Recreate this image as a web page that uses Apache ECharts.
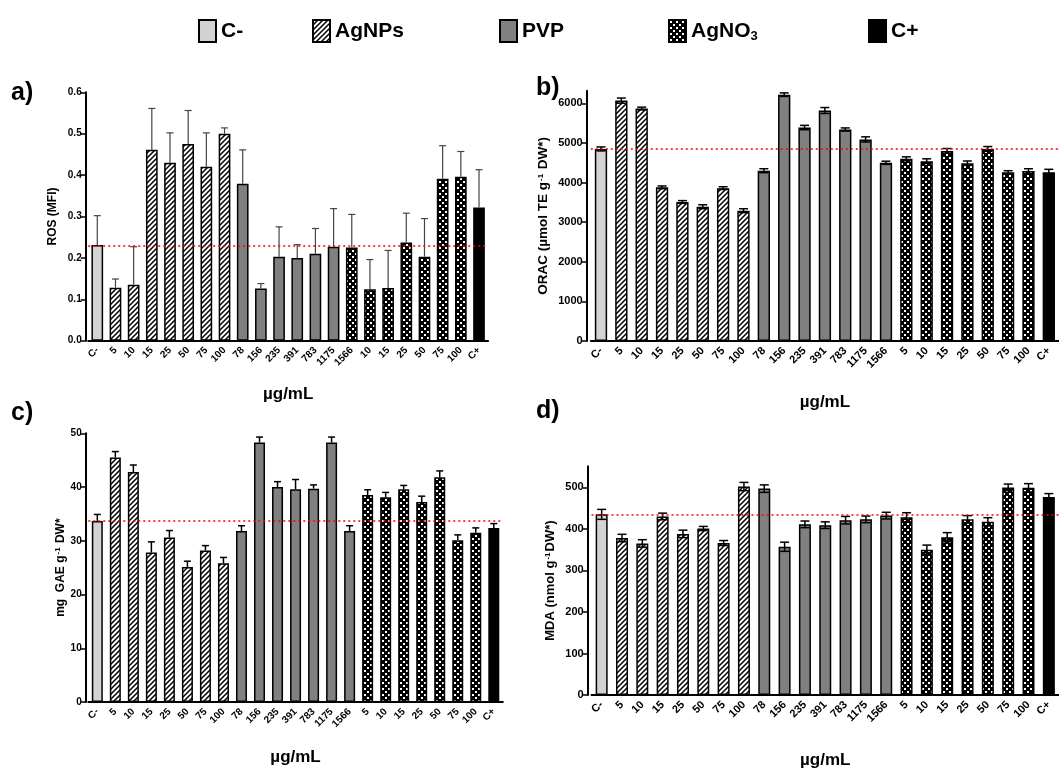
<!DOCTYPE html>
<html><head><meta charset="utf-8">
<script src="https://cdn.jsdelivr.net/npm/echarts@6/dist/echarts.min.js"></script>
<style>html,body{margin:0;padding:0;background:#fff}#c{width:1059px;height:770px}</style>
</head><body><div id="c"></div>
<script>
// ---------- DATA ----------
const groupNames = ['C-', 'AgNPs', 'PVP', 'AgNO3', 'C+'];

// panel a categories (as printed on the axis)
const catsA = ['C-','5','10','15','25','50','75','100','78','156','235','391','783','1175','1566','10','15','25','50','75','100','C+'];
const groupsA = ['C-','AgNPs','AgNPs','AgNPs','AgNPs','AgNPs','AgNPs','AgNPs','PVP','PVP','PVP','PVP','PVP','PVP','AgNO3','AgNO3','AgNO3','AgNO3','AgNO3','AgNO3','AgNO3','C+'];
// panels b, c, d categories
const catsBCD = ['C-','5','10','15','25','50','75','100','78','156','235','391','783','1175','1566','5','10','15','25','50','75','100','C+'];
const groupsBCD = ['C-','AgNPs','AgNPs','AgNPs','AgNPs','AgNPs','AgNPs','AgNPs','PVP','PVP','PVP','PVP','PVP','PVP','PVP','AgNO3','AgNO3','AgNO3','AgNO3','AgNO3','AgNO3','AgNO3','C+'];

// a) ROS (MFI)
const rosVals = [0.231,0.128,0.135,0.461,0.430,0.475,0.420,0.500,0.379,0.126,0.203,0.200,0.210,0.227,0.225,0.124,0.127,0.237,0.203,0.391,0.396,0.322];
const rosErr  = [0.071,0.021,0.092,0.100,0.072,0.081,0.082,0.014,0.082,0.012,0.072,0.032,0.061,0.092,0.080,0.072,0.091,0.071,0.092,0.080,0.061,0.091];
// b) ORAC
const oracVals = [4850,6070,5870,3880,3510,3390,3860,3290,4300,6220,5390,5820,5340,5090,4500,4600,4540,4800,4490,4850,4260,4290,4260];
const oracErr  = [50,65,35,35,35,50,35,50,50,45,55,75,40,65,40,50,60,60,55,60,40,60,75];
// c) mg GAE
const gaeVals = [33.7,45.5,42.8,27.8,30.6,25.1,28.2,25.8,31.8,48.3,40.0,39.6,39.7,48.3,31.8,38.5,38.1,39.6,37.2,41.8,30.1,31.5,32.4];
const gaeErr  = [1.2,1.1,1.3,2.0,1.3,1.1,0.9,1.1,1.0,1.0,1.0,1.8,0.7,1.0,1.0,1.0,0.9,0.7,1.1,1.2,1.0,0.9,0.8];
// d) MDA
const mdaVals = [435,378,365,430,388,401,366,502,497,357,411,409,421,423,432,428,350,380,423,417,500,499,477];
const mdaErr  = [12,9,9,8,9,5,6,10,9,11,8,8,9,8,8,11,11,11,9,10,8,10,8];

const yTicksA = [0,0.1,0.2,0.3,0.4,0.5,0.6];
const yTicksB = [0,1000,2000,3000,4000,5000,6000];
const yTicksC = [0,10,20,30,40,50];
const yTicksD = [0,100,200,300,400,500];

// ---------- PATTERNS ----------
function hatch() {
  const s = 5, c = document.createElement('canvas'); c.width = c.height = s;
  const g = c.getContext('2d');
  g.fillStyle = '#fff'; g.fillRect(0,0,s,s);
  g.strokeStyle = '#000'; g.lineWidth = 1.5; g.beginPath();
  g.moveTo(-1, s+1); g.lineTo(s+1, -1);
  g.moveTo(-1, 1); g.lineTo(1, -1);
  g.moveTo(s-1, s+1); g.lineTo(s+1, s-1);
  g.stroke();
  return c;
}
function checker() {
  const s = 6, c = document.createElement('canvas'); c.width = c.height = s;
  const g = c.getContext('2d');
  g.fillStyle = '#000'; g.fillRect(0,0,s,s);
  g.fillStyle = '#fff';
  g.fillRect(1,1,2,2); g.fillRect(4,4,2,2);
  return c;
}
const fills = {
  'C-': '#d3d3d3',
  'AgNPs': { image: hatch(), repeat: 'repeat' },
  'PVP': '#808080',
  'AgNO3': { image: checker(), repeat: 'repeat' },
  'C+': '#000'
};

const FONT = '"Liberation Sans", Arial, sans-serif';
const chart = echarts.init(document.getElementById('c'), null, { renderer: 'canvas' });

const panels = [
  { cats: catsA, groups: groupsA, vals: rosVals, err: rosErr, ticks: yTicksA, max: 0.6,
    grid: { left: 88.2, top: 92.3, width: 399.9, height: 248.4 }, offset: 2.5,
    bw: 11.7, both: false, cap: 7, ecol: '#444', elw: 1.2, xfs: 10, yfs: 10, nfs: 12,
    name: 'ROS (MFI)', nameGap: 27, xNameGap: 45, fmt: v => v.toFixed(1) },
  { cats: catsBCD, groups: groupsBCD, vals: oracVals, err: oracErr, ticks: yTicksB, max: 6320,
    grid: { left: 590.8, top: 90.7, width: 469.9, height: 250.3 }, offset: 4.1,
    bw: 12.3, both: true, cap: 9, ecol: '#000', elw: 1.5, xfs: 11, yfs: 11, nfs: 13.5,
    name: 'ORAC (µmol TE g{sup|-1} DW*)', nameGap: 36, xNameGap: 53, fmt: v => String(v) },
  { cats: catsBCD, groups: groupsBCD, vals: gaeVals, err: gaeErr, ticks: yTicksC, max: 50,
    grid: { left: 88.3, top: 433.3, width: 414.5, height: 268.7 }, offset: 2.6,
    bw: 11, both: false, cap: 7, ecol: '#000', elw: 1.5, xfs: 10, yfs: 10, nfs: 12,
    name: 'mg  GAE g{sup|-1} DW*', nameGap: 18, xNameGap: 47, fmt: v => String(v) },
  { cats: catsBCD, groups: groupsBCD, vals: mdaVals, err: mdaErr, ticks: yTicksD, max: 551,
    grid: { left: 591.5, top: 466.2, width: 468, height: 235.8 }, offset: 3.8,
    bw: 12, both: true, cap: 9, ecol: '#000', elw: 1.5, xfs: 11, yfs: 11, nfs: 13,
    name: 'MDA (nmol g{sup|-1}DW*)', nameGap: 30, xNameGap: 57, fmt: v => String(v) }
];

function errRender(p) {
  return function (params, api) {
    const i = api.value(0), v = api.value(1), e = api.value(2);
    const top = api.coord([i, v + e]);
    const bot = api.coord([i, p.both ? v - e : v]);
    const st = { stroke: p.ecol, lineWidth: p.elw };
    const ch = [
      { type: 'line', shape: { x1: top[0], y1: top[1], x2: bot[0], y2: bot[1] }, style: st },
      { type: 'line', shape: { x1: top[0] - p.cap / 2, y1: top[1], x2: top[0] + p.cap / 2, y2: top[1] }, style: st }
    ];
    if (p.both) ch.push({ type: 'line', shape: { x1: bot[0] - p.cap / 2, y1: bot[1], x2: bot[0] + p.cap / 2, y2: bot[1] }, style: st });
    return { type: 'group', children: ch };
  };
}

const grids = [], xAxes = [], yAxes = [], series = [];
panels.forEach((p, gi) => {
  grids.push(Object.assign({ containLabel: false }, p.grid));
  xAxes.push({
    type: 'category', gridIndex: gi, data: p.cats,
    axisLine: { lineStyle: { color: '#000', width: 2 } },
    axisTick: { alignWithLabel: true, length: 5, lineStyle: { color: '#000', width: 1.5 } },
    axisLabel: { rotate: 45, interval: 0, margin: 8, color: '#000', fontSize: p.xfs, fontWeight: 'bold', fontFamily: FONT },
    name: 'µg/mL', nameLocation: 'middle', nameGap: p.xNameGap,
    nameTextStyle: { color: '#000', fontSize: 17, fontWeight: 'bold', fontFamily: FONT }
  });
  yAxes.push({
    type: 'value', gridIndex: gi, min: 0, max: p.max, offset: p.offset,
    axisLine: { show: true, lineStyle: { color: '#000', width: 2 } },
    axisTick: { show: true, length: 5, lineStyle: { color: '#000', width: 1.5 }, customValues: p.ticks },
    axisLabel: { color: '#000', fontSize: p.yfs, fontWeight: 'bold', fontFamily: FONT, margin: 4,
      customValues: p.ticks,
      formatter: v => (p.ticks.some(t => Math.abs(t - v) < 1e-9) ? p.fmt(v) : '') },
    splitLine: { show: false },
    name: p.name, nameLocation: 'middle', nameRotate: 90, nameGap: p.nameGap,
    nameTextStyle: { color: '#000', fontSize: p.nfs, fontWeight: 'bold', fontFamily: FONT,
      rich: { sup: { fontSize: 8, fontWeight: 'bold', fontFamily: FONT, color: '#000', verticalAlign: 'top', padding: [0, 1, 6, 1] } } }
  });
  groupNames.forEach(g => {
    const s = {
      type: 'bar', name: g, xAxisIndex: gi, yAxisIndex: gi, barWidth: p.bw, barGap: '-100%',
      data: p.vals.map((v, k) => (p.groups[k] === g ? v : '-')),
      itemStyle: { color: fills[g], borderColor: '#000', borderWidth: 1.5 },
      silent: true, animation: false
    };
    if (g === 'C-') {
      s.markLine = {
        silent: true, symbol: 'none', animation: false, z: 5,
        label: { show: false },
        lineStyle: { color: '#ff0000', type: [2, 3], width: 1.5 },
        data: [{ yAxis: p.vals[0] }]
      };
    }
    series.push(s);
  });
  series.push({
    type: 'custom', xAxisIndex: gi, yAxisIndex: gi, silent: true, animation: false, z: 4,
    renderItem: errRender(p), encode: { x: 0, y: 1 },
    data: p.vals.map((v, k) => [k, v, p.err[k]])
  });
});

const legendPos = { 'C-': 198, 'AgNPs': 312, 'PVP': 499, 'AgNO3': 668, 'C+': 868 };
const legends = groupNames.map(g => ({
  data: [g], left: legendPos[g], top: 19, padding: 0, orient: 'horizontal',
  selectedMode: false, icon: 'rect', itemWidth: 17, itemHeight: 22,
  itemStyle: { borderColor: '#000', borderWidth: 2 },
  formatter: n => (n === 'AgNO3' ? '{a|AgNO}{s|3}' : n),
  textStyle: { color: '#000', fontSize: 21, fontWeight: 'bold', fontFamily: FONT,
    rich: { a: { fontSize: 21, fontWeight: 'bold', fontFamily: FONT, color: '#000' },
            s: { fontSize: 13, fontWeight: 'bold', fontFamily: FONT, color: '#000', verticalAlign: 'bottom', padding: [10, 0, 0, 0] } } }
}));

chart.setOption({
  animation: false,
  backgroundColor: '#fff',
  legend: legends,
  grid: grids, xAxis: xAxes, yAxis: yAxes, series: series,
  graphic: [
    { type: 'text', left: 11, top: 81, style: { text: 'a)', font: 'bold 25px ' + FONT, fill: '#000' } },
    { type: 'text', left: 536, top: 76, style: { text: 'b)', font: 'bold 25px ' + FONT, fill: '#000' } },
    { type: 'text', left: 11, top: 401, style: { text: 'c)', font: 'bold 25px ' + FONT, fill: '#000' } },
    { type: 'text', left: 536, top: 399, style: { text: 'd)', font: 'bold 25px ' + FONT, fill: '#000' } }
  ]
});
</script>
</body></html>
